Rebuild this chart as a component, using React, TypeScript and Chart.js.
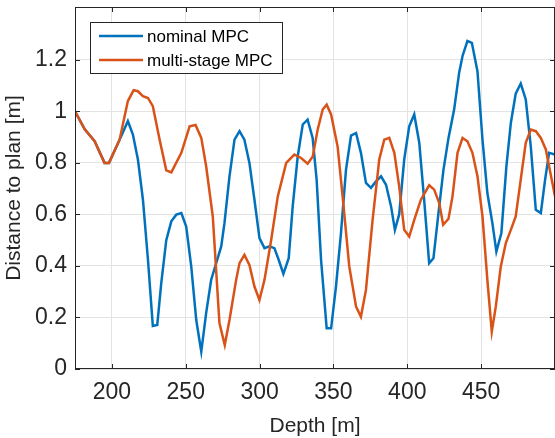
import React, { useEffect, useRef } from "react";
import { Chart, registerables } from "chart.js";

Chart.register(...registerables);

// ---- data ----
const depthNominal = [
  175, 181.6, 188.3, 195, 198, 205.2, 210.8, 214.2, 217.6, 221, 224.4, 227.7, 230.7, 233.4, 236.8, 240.2,
  243.6, 247, 250.3, 253.7, 257.1, 260.5, 263.8, 267.2, 270.6, 274, 276.2, 279.6, 283, 286.4, 289.7, 293.1,
  296.5, 299.9, 303.3, 306.6, 310, 312.9, 316.1, 319.7, 322.4, 325.8, 329.2, 332.5, 335.9, 338.6, 341.6, 345.4,
  348.4, 351.7, 355.1, 358.5, 361.9, 365.3, 368.6, 372, 375.4, 378.8, 382.2, 385.6, 389, 391.6, 394.5, 397.9,
  401.3, 404.7, 408.1, 411.4, 414.8, 417.7, 421.1, 424.5, 427.9, 431.7, 435.1, 437.4, 440.7, 443.7, 447.5,
  450.9, 454.2, 457.6, 460.3, 463.7, 467.1, 470.1, 473.4, 476.8, 480.2, 483.6, 487, 490.4, 493.3, 496, 500,
];
const nominalMPC = [
  1.0, 0.93, 0.884, 0.8, 0.8, 0.89, 0.962, 0.91, 0.813, 0.657, 0.424, 0.167, 0.171, 0.333, 0.5, 0.573,
  0.599, 0.605, 0.553, 0.398, 0.19, 0.067, 0.217, 0.346, 0.411, 0.476, 0.566, 0.748, 0.89, 0.923, 0.89, 0.8,
  0.657, 0.508, 0.469, 0.476, 0.469, 0.424, 0.369, 0.43, 0.631, 0.825, 0.949, 0.968, 0.897, 0.735, 0.424, 0.158,
  0.158, 0.32, 0.528, 0.774, 0.906, 0.916, 0.839, 0.722, 0.703, 0.728, 0.748, 0.715, 0.631, 0.54, 0.6, 0.813,
  0.942, 0.988, 0.878, 0.657, 0.411, 0.43, 0.605, 0.774, 0.897, 1.007, 1.15, 1.215, 1.273, 1.266, 1.156,
  0.89, 0.683, 0.566, 0.456, 0.528, 0.787, 0.955, 1.069, 1.108, 1.046, 0.864, 0.618, 0.605, 0.735, 0.839, 0.832,
];
const depthMultiStage = [
  175, 181.6, 188.3, 195, 198, 205.2, 210.8, 214.7, 217.6, 221, 224.4, 227.7, 232.3, 236.8, 240.2, 247,
  252.6, 256.6, 260.5, 263.8, 268.3, 272.8, 276.4, 279.6, 284.1, 286.4, 289.7, 293.1, 296.5, 299.9, 303.3,
  307.8, 312.3, 318, 323.5, 328.1, 332.5, 336, 339.3, 342.7, 345.4, 348.4, 352.8, 356.2, 360.7, 365.3, 368.6,
  372, 376.5, 381, 384.4, 387.8, 391.2, 394.5, 397.9, 401.3, 404.7, 409.2, 414.8, 418.2, 421.6, 424.3, 427.9,
  430.6, 434, 437.4, 440.7, 444.1, 447.5, 450.9, 454.2, 457.2, 459.9, 463.3, 466.7, 470.1, 473.4, 476.8,
  480.2, 483.6, 487, 490.4, 493.8, 496, 500,
];
const multiStageMPC = [
  1.0, 0.93, 0.884, 0.8, 0.8, 0.89, 1.04, 1.082, 1.078, 1.059, 1.052, 1.02, 0.89, 0.771, 0.763, 0.839,
  0.942, 0.947, 0.897, 0.787, 0.592, 0.178, 0.093, 0.19, 0.346, 0.411, 0.443, 0.404, 0.32, 0.268, 0.346,
  0.5, 0.67, 0.8, 0.832, 0.819, 0.797, 0.825, 0.929, 1.007, 1.026, 0.988, 0.864, 0.67, 0.398, 0.242, 0.203,
  0.307, 0.579, 0.813, 0.89, 0.897, 0.839, 0.709, 0.54, 0.514, 0.579, 0.657, 0.713, 0.696, 0.644, 0.56, 0.583,
  0.67, 0.839, 0.897, 0.884, 0.839, 0.748, 0.592, 0.346, 0.145, 0.242, 0.398, 0.489, 0.54, 0.592, 0.735,
  0.878, 0.929, 0.923, 0.897, 0.852, 0.787, 0.67,
];
const xTicks = [200, 250, 300, 350, 400, 450];
const yTicks = [0, 0.2, 0.4, 0.6, 0.8, 1, 1.2];
const seriesNames = ["nominal MPC", "multi-stage MPC"];
const seriesColors = ["#0072BD", "#D95319"];
const xTitle = "Depth [m]";
const yTitle = "Distance to plan [m]";

const X_MIN = 175;
const X_MAX = 500;
const Y_MIN = 0;
const Y_MAX = 1.405;

const FONT = "'Liberation Sans', Arial, Helvetica, sans-serif";
const AXIS_COLOR = "#262626";
const GRID_COLOR = "#e3e3e3";

const framePlugin = {
  id: "matlabFrame",
  afterDraw(chart: any) {
    const { ctx, chartArea: a, scales } = chart;
    ctx.save();
    // box
    ctx.strokeStyle = AXIS_COLOR;
    ctx.lineWidth = 1;
    ctx.strokeRect(a.left + 0.5, a.top + 0.5, a.right - a.left - 1, a.bottom - a.top - 1);
    // inward ticks
    ctx.beginPath();
    const tl = 5;
    xTicks.forEach((v) => {
      const x = Math.round(scales.x.getPixelForValue(v)) + 0.5;
      ctx.moveTo(x, a.bottom);
      ctx.lineTo(x, a.bottom - tl);
      ctx.moveTo(x, a.top);
      ctx.lineTo(x, a.top + tl);
    });
    yTicks.forEach((v) => {
      const y = Math.round(scales.y.getPixelForValue(v)) + 0.5;
      ctx.moveTo(a.left, y);
      ctx.lineTo(a.left + tl, y);
      ctx.moveTo(a.right, y);
      ctx.lineTo(a.right - tl, y);
    });
    ctx.stroke();

    // legend box
    const bx = a.left + 15;
    const by = a.top + 15;
    const bw = 193;
    const bh = 52;
    ctx.fillStyle = "#ffffff";
    ctx.fillRect(bx, by, bw, bh);
    ctx.strokeStyle = AXIS_COLOR;
    ctx.lineWidth = 1;
    ctx.strokeRect(bx + 0.5, by + 0.5, bw - 1, bh - 1);
    ctx.font = `17px ${FONT}`;
    ctx.textBaseline = "middle";
    ctx.textAlign = "left";
    seriesNames.forEach((name, i) => {
      const y = by + 14 + i * 24;
      ctx.strokeStyle = seriesColors[i];
      ctx.lineWidth = 2.5;
      ctx.beginPath();
      ctx.moveTo(bx + 9, y);
      ctx.lineTo(bx + 53, y);
      ctx.stroke();
      ctx.fillStyle = "#000000";
      ctx.fillText(name, bx + 57, y + 1);
    });
    ctx.restore();
  },
};

export default function App() {
  const ref = useRef<HTMLCanvasElement | null>(null);

  useEffect(() => {
    if (!ref.current) return;
    const toPoints = (xs: number[], ys: number[]) => xs.map((x, i) => ({ x, y: ys[i] }));
    const chart = new Chart(ref.current, {
      type: "line",
      data: {
        datasets: [
          {
            label: seriesNames[0],
            data: toPoints(depthNominal, nominalMPC),
            borderColor: seriesColors[0],
            backgroundColor: seriesColors[0],
            borderWidth: 2.5,
            pointRadius: 0,
            tension: 0,
            fill: false,
            order: 2,
          },
          {
            label: seriesNames[1],
            data: toPoints(depthMultiStage, multiStageMPC),
            borderColor: seriesColors[1],
            backgroundColor: seriesColors[1],
            borderWidth: 2.5,
            pointRadius: 0,
            tension: 0,
            fill: false,
            order: 1,
          },
        ],
      },
      options: {
        animation: false,
        responsive: false,
        devicePixelRatio: 1,
        layout: { padding: { top: 7, left: 0, right: 0, bottom: 0 } },
        plugins: {
          legend: { display: false },
          tooltip: { enabled: false },
        },
        scales: {
          x: {
            type: "linear",
            min: X_MIN,
            max: X_MAX,
            afterBuildTicks: (scale: any) => {
              scale.ticks = xTicks.map((v) => ({ value: v }));
            },
            afterFit: (scale: any) => {
              scale.height = 69;
              scale.paddingLeft = 0;
              scale.paddingRight = 0;
            },
            ticks: {
              autoSkip: false,
              maxRotation: 0,
              padding: 10,
              color: AXIS_COLOR,
              font: { family: FONT, size: 23 },
              callback: (v: any) => String(v),
            },
            grid: { color: GRID_COLOR, lineWidth: 1, drawTicks: false },
            border: { display: false },
            title: {
              display: true,
              text: xTitle,
              color: AXIS_COLOR,
              font: { family: FONT, size: 21, lineHeight: 1 },
              padding: { top: 0, bottom: 1 },
            },
          },
          y: {
            type: "linear",
            min: Y_MIN,
            max: Y_MAX,
            afterBuildTicks: (scale: any) => {
              scale.ticks = yTicks.map((v) => ({ value: v }));
            },
            afterFit: (scale: any) => {
              scale.width = 75;
              scale.paddingTop = 0;
              scale.paddingBottom = 0;
            },
            ticks: {
              autoSkip: false,
              padding: 8,
              color: AXIS_COLOR,
              font: { family: FONT, size: 23 },
              callback: (v: any) => String(Number(Number(v).toFixed(1))),
            },
            grid: { color: GRID_COLOR, lineWidth: 1, drawTicks: false },
            border: { display: false },
            title: {
              display: true,
              text: yTitle,
              color: AXIS_COLOR,
              font: { family: FONT, size: 21, lineHeight: 1 },
              padding: { top: 4, bottom: 0 },
            },
          },
        },
      },
      plugins: [framePlugin],
    });
    return () => chart.destroy();
  }, []);

  return (
    <div style={{ position: "fixed", left: 0, top: 0, width: 555, height: 438, background: "#fff" }}>
      <canvas ref={ref} width={555} height={438} style={{ display: "block", width: 555, height: 438 }} />
    </div>
  );
}
